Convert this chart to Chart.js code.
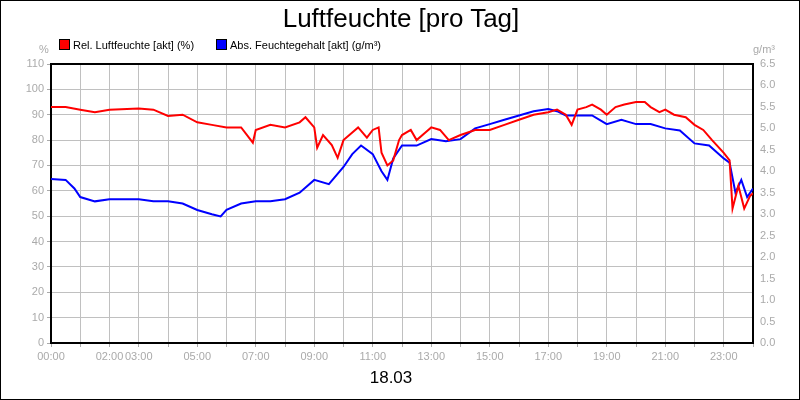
<!DOCTYPE html>
<html><head><meta charset="utf-8">
<script src="https://cdn.jsdelivr.net/npm/chart.js@4/dist/chart.umd.min.js"></script>
<style>
body{margin:0;background:#fff;font-family:Arial,"Liberation Sans",sans-serif}
#wrap{position:relative;width:800px;height:400px;box-sizing:border-box;border:1px solid #000;overflow:hidden}
canvas{position:absolute;left:0;top:0}
.t{position:absolute;white-space:nowrap}
.sw{display:inline-block;width:9px;height:9px;border:1px solid #000;vertical-align:-1px;margin-right:3px}
</style></head><body>
<div id="wrap">
<canvas id="c" width="800" height="400"></canvas>
<div class="t" style="left:0;width:800px;top:2px;text-align:center;font-size:26px">Luftfeuchte [pro Tag]</div>
<div class="t" style="left:58px;top:38px;font-size:11px"><span class="sw" style="background:#f00"></span>Rel. Luftfeuchte [akt] (%)</div>
<div class="t" style="left:215px;top:38px;font-size:11px"><span class="sw" style="background:#00f"></span>Abs. Feuchtegehalt [akt] (g/m³)</div>
<div class="t" style="left:38px;top:42px;font-size:11px;color:#aaa">%</div>
<div class="t" style="left:752px;top:42px;font-size:11px;color:#aaa">g/m³</div>
<div class="t" style="left:0;width:780px;top:367px;text-align:center;font-size:17px">18.03</div>
</div>
<script>
var hourLabels = [0, 2, 3, 5, 7, 9, 11, 13, 15, 17, 19, 21, 23];
var relHours = [0,0.5,1,1.5,2,3,3.5,4,4.5,5,5.5,6,6.5,6.9,7,7.5,8,8.5,8.7,9,9.1,9.3,9.6,9.8,10,10.3,10.5,10.8,11,11.2,11.3,11.5,11.7,11.9,12,12.3,12.5,12.8,13,13.3,13.6,14,14.5,15,15.5,16,16.5,17,17.3,17.6,17.8,18,18.3,18.5,18.8,19,19.3,19.6,20,20.3,20.5,20.8,21,21.3,21.7,22,22.3,22.6,23,23.2,23.3,23.5,23.7,23.9,24];
var relValues = [93,93,92,91,92,92.5,92,89.5,90,87,86,85,85,79,84,86,85,87,89,85,77,82,78,73,80,83,85,81,84,85,75,70,72,80,82,84,80,83,85,84,80,82,84,84,86,88,90,91,92,90,86,92,93,94,92,90,93,94,95,95,93,91,92,90,89,86,84,80,75,72,53,62,53,58,59];
var absHours = [0,0.5,0.8,1,1.5,2,3,3.5,4,4.5,5,5.5,5.8,6,6.5,7,7.5,8,8.5,9,9.5,10,10.3,10.6,11,11.3,11.5,11.7,12,12.5,13,13.5,14,14.5,15,15.5,16,16.5,17,17.3,17.6,18,18.5,19,19.5,20,20.5,21,21.5,22,22.5,23,23.2,23.4,23.6,23.8,24];
var absValues = [3.82,3.8,3.6,3.4,3.3,3.35,3.35,3.3,3.3,3.25,3.1,3.0,2.95,3.1,3.25,3.3,3.3,3.35,3.5,3.8,3.7,4.1,4.4,4.6,4.4,4.0,3.8,4.3,4.6,4.6,4.75,4.7,4.75,5.0,5.1,5.2,5.3,5.4,5.45,5.4,5.3,5.3,5.3,5.1,5.2,5.1,5.1,5.0,4.95,4.65,4.6,4.3,4.2,3.5,3.8,3.4,3.6];

function pts(xs, ys) {
  return xs.map(function (x, i) { return { x: x, y: ys[i] }; });
}
var tickFont = { family: 'Arial', size: 11 };
new Chart(document.getElementById('c'), {
  type: 'line',
  data: {
    datasets: [
      { data: pts(relHours, relValues), borderColor: '#f00', borderWidth: 2, pointRadius: 0, yAxisID: 'y', tension: 0 },
      { data: pts(absHours, absValues), borderColor: '#00f', borderWidth: 2, pointRadius: 0, yAxisID: 'y2', tension: 0 }
    ]
  },
  options: {
    responsive: false, animation: false,
    layout: { padding: { top: 63, left: 0, right: 0, bottom: 0 } },
    plugins: { legend: { display: false }, tooltip: { enabled: false } },
    scales: {
      x: {
        type: 'linear', min: 0, max: 24,
        afterFit: function (s) { s.height = 58; },
        ticks: {
          stepSize: 1, autoSkip: false, maxRotation: 0, color: '#aaa', font: tickFont,
          callback: function (v) { return hourLabels.indexOf(v) >= 0 ? (v < 10 ? '0' : '') + v + ':00' : ''; }
        },
        grid: { color: '#c0c0c0', tickColor: '#aaa', tickLength: 4 },
        border: { color: '#000', width: 2 }
      },
      y: {
        position: 'left', min: 0, max: 110,
        afterFit: function (s) { s.width = 50; },
        ticks: { stepSize: 10, color: '#aaa', font: tickFont },
        grid: { color: '#c0c0c0', tickColor: '#aaa', tickLength: 4 },
        border: { color: '#000', width: 2 }
      },
      y2: {
        position: 'right', min: 0, max: 6.5,
        afterFit: function (s) { s.width = 48; },
        ticks: { stepSize: 0.5, color: '#aaa', font: tickFont, callback: function (v) { return v.toFixed(1); } },
        grid: { display: false, tickColor: '#aaa', tickLength: 4 },
        border: { color: '#000', width: 2 }
      }
    }
  },
  plugins: [{
    id: 'topBorder',
    afterDraw: function (ch) {
      var a = ch.chartArea, c = ch.ctx;
      c.save(); c.strokeStyle = '#000'; c.lineWidth = 2;
      c.beginPath(); c.moveTo(a.left, a.top); c.lineTo(a.right, a.top); c.stroke(); c.restore();
    }
  }]
});
</script>
</body></html>
